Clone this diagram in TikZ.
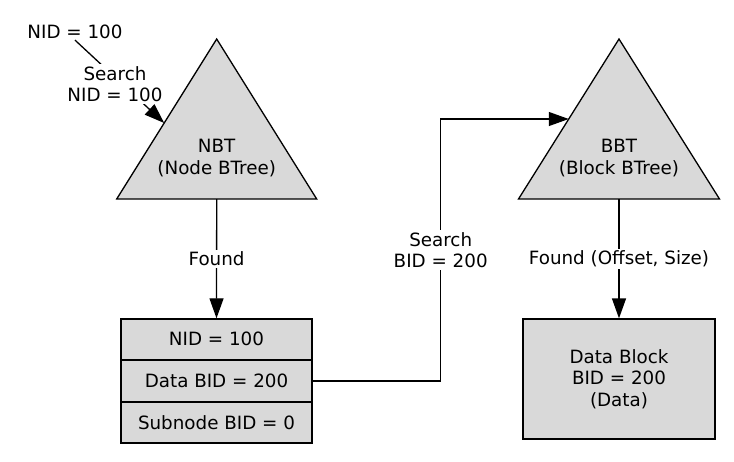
\documentclass[tikz,border=0pt]{standalone}
\usepackage{fontspec}
\setmainfont{DejaVu Sans}
\usetikzlibrary{arrows.meta,calc}
\begin{document}
\begin{tikzpicture}[x=1pt,y=-1pt,
  font=\fontsize{18.3}{21.5}\selectfont,
  shp/.style={draw=black, fill=black!15, line width=1.3pt},
  lbl/.style={fill=white, inner sep=2pt, align=center},
  txt/.style={inner sep=0pt, align=center},
  conn/.style={line width=1.3pt, -{Triangle[length=20pt,width=14pt]}},
  rowbox/.style={shp, minimum width=191pt, minimum height=40.5pt, inner sep=0pt, anchor=north}]
\useasboundingbox (0,0) rectangle (734,461);
% NBT triangle
\coordinate (nA) at (216.7,39);
\coordinate (nL) at (116.7,199);
\coordinate (nR) at (316.7,199);
\coordinate (nbtb) at (216.7,199);
\draw[shp] (nA) -- (nL) -- (nR) -- cycle;
\node[txt] (nbt) at (216.7,158) {NBT\\(Node BTree)};
% BBT triangle
\coordinate (bA) at (619,39);
\coordinate (bL) at (518.5,199);
\coordinate (bR) at (719.5,199);
\coordinate (bbtb) at (619,199);
\draw[shp] (bA) -- (bL) -- (bR) -- cycle;
\node[txt] (bbt) at (619,158) {BBT\\(Block BTree)};
% record
\node[rowbox] (r1) at (216.5,318.3) {NID = 100};
\node[rowbox] (r2) at (r1.south) {Data BID = 200};
\node[rowbox] (r3) at (r2.south) {Subnode BID = 0};
% data block
\node[shp, minimum width=192pt, minimum height=120pt, inner sep=0pt, align=center] (db) at (619,379) {Data Block\\BID = 200\\(Data)};
% connectors
\draw[conn] (nbtb) -- node[lbl]{Found} (r1.north);
\draw[conn] (bbtb) -- node[lbl]{Found (Offset, Size)} (db.north);
\coordinate (bmid) at ($(bA)!0.5!(bL)$);
\coordinate (turn) at (440.7,119);
\draw[conn] (r2.east) -| node[lbl, pos=0.75]{Search\\BID = 200} (turn) -- (bmid);
% top-left search
\node[txt, inner sep=1pt] (nid) at (75,32) {NID = 100};
\coordinate (ntip) at ($(nA)!0.525!(nL)$);
\draw[conn] (nid.south) -- (ntip);
\node[lbl] (srch) at (115,84) {Search\\NID = 100};
\end{tikzpicture}
\end{document}
